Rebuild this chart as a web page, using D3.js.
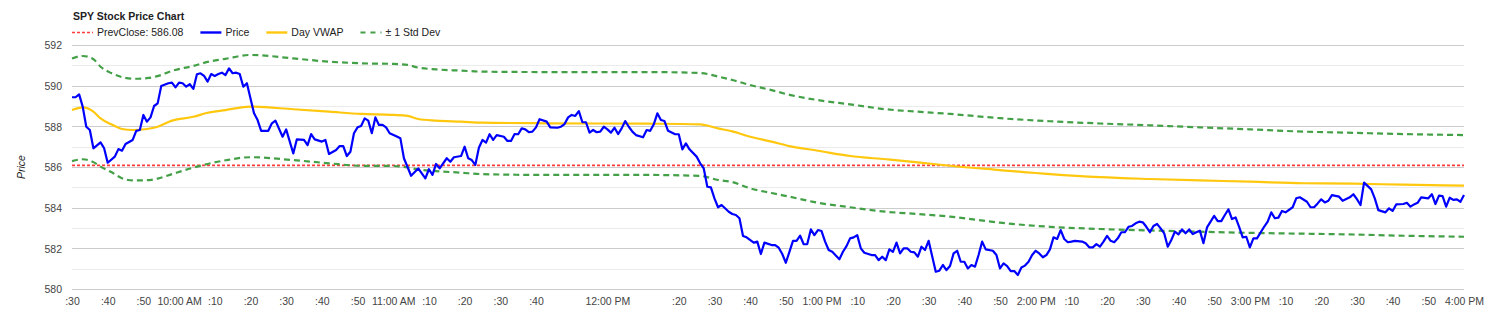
<!DOCTYPE html>
<html>
<head>
<meta charset="utf-8">
<script src="https://cdn.jsdelivr.net/npm/d3@7"></script>
<style>
  html, body { margin: 0; padding: 0; background: #fff; }
  svg { display: block; font-family: Arial, "Liberation Sans", sans-serif; }
</style>
</head>
<body>
<svg id="chart" width="1503" height="323"></svg>
<script>
// ---- data -------------------------------------------------------------
const title = "SPY Stock Price Chart";
const prevClose = 586.08;

// SPY last price: [minutes after the 9:30 open, price]
const price = [
  [0,589.43],[1,589.43],[2,589.57],[3,588.97],[4,587.98],[5,587.82],[6,586.92],[8,587.21],[9,586.92],
  [10,586.21],[12,586.51],[13,586.88],[14,586.80],[15,587.13],[17,587.33],[18,587.78],[19,587.82],
  [20,588.56],[21,588.23],[22,588.44],[23,589.00],[24,589.13],[25,589.98],[27,590.12],[28,590.15],
  [29,589.92],[30,590.15],[31,590.12],[32,589.95],[33,590.07],[34,589.84],[35,590.56],[36,590.61],
  [37,590.48],[38,590.20],[39,590.57],[40,590.48],[41,590.57],[42,590.64],[43,590.52],[44,590.85],
  [45,590.61],[46,590.64],[47,590.57],[48,589.95],[49,590.12],[51,588.64],[52,588.31],[53,587.78],
  [55,587.78],[56,588.15],[57,588.28],[59,587.49],[60,587.85],[62,586.67],[63,587.36],[65,587.33],
  [66,587.08],[67,587.62],[68,587.36],[70,587.25],[71,587.33],[72,586.64],[74,586.84],[75,587.03],
  [76,587.03],[77,586.54],[78,586.75],[79,587.66],[80,587.95],[81,588.02],[82,588.39],[83,588.28],
  [84,587.66],[85,588.44],[86,588.07],[87,588.07],[88,587.95],[89,587.66],[91,587.50],[92,587.41],
  [93,586.43],[95,585.57],[97,585.93],[99,585.44],[100,585.89],[101,585.61],[102,586.15],[103,585.93],
  [105,586.43],[106,586.26],[107,586.48],[109,586.54],[110,587.00],[111,586.43],[112,586.34],[113,586.10],
  [114,586.95],[115,587.33],[116,587.20],[117,587.61],[118,587.33],[119,587.57],[121,587.49],[122,587.28],
  [123,587.28],[124,587.62],[125,587.61],[126,587.90],[127,587.85],[128,587.71],[129,587.74],[130,587.95],
  [131,588.35],[133,588.23],[134,587.95],[136,587.93],[137,587.98],[138,588.11],[139,588.44],[140,588.56],
  [141,588.51],[142,588.75],[143,588.20],[144,588.20],[145,587.69],[146,587.82],[147,587.71],[148,587.74],
  [149,587.98],[150,587.85],[151,587.69],[152,587.93],[153,587.62],[154,587.90],[155,588.26],[156,587.98],
  [157,587.74],[158,587.57],[160,587.46],[161,587.82],[162,587.78],[163,588.10],[164,588.64],[165,588.31],
  [166,588.26],[167,587.78],[169,587.61],[170,587.61],[171,586.87],[172,587.16],[173,586.87],[175,586.51],
  [176,586.18],[177,585.93],[178,585.03],[179,585.00],[180,584.46],[181,584.02],[182,584.13],[184,583.80],
  [185,583.69],[186,583.64],[187,583.48],[188,582.61],[189,582.54],[191,582.28],[192,582.33],[193,581.72],
  [194,582.28],[196,582.16],[197,582.16],[198,582.03],[199,581.72],[200,581.29],[201,581.83],[202,582.37],
  [203,582.37],[204,582.62],[205,582.20],[206,582.21],[207,582.93],[208,582.65],[209,582.90],[210,582.85],
  [211,582.33],[212,581.92],[213,581.83],[215,581.46],[216,581.83],[217,582.11],[218,582.49],[219,582.54],
  [220,582.65],[221,582.00],[222,581.78],[224,581.67],[225,581.67],[226,581.42],[227,581.59],[228,581.42],
  [229,581.95],[230,581.83],[231,582.28],[232,581.75],[233,582.00],[234,582.00],[235,581.83],[236,581.80],
  [237,581.59],[238,582.08],[239,581.92],[240,582.37],[242,580.85],[243,580.90],[244,581.18],[245,580.93],
  [246,581.13],[247,581.75],[248,581.88],[249,581.34],[250,581.34],[251,581.01],[252,581.18],[253,581.10],
  [254,581.67],[255,582.33],[256,581.95],[258,581.88],[259,581.67],[260,581.01],[261,581.26],[262,581.13],
  [263,580.88],[264,580.88],[265,580.69],[266,581.06],[267,581.15],[268,581.34],[269,581.67],[270,581.88],
  [271,581.75],[272,581.56],[273,581.67],[274,581.95],[275,582.54],[276,582.46],[277,582.90],[278,582.46],
  [279,582.30],[280,582.33],[281,582.37],[283,582.33],[284,582.25],[285,582.05],[286,582.05],[287,582.21],
  [288,582.08],[289,582.33],[290,582.61],[291,582.37],[292,582.30],[293,582.49],[294,582.79],[295,582.79],
  [296,583.06],[297,583.10],[298,583.23],[299,583.31],[300,583.28],[301,583.06],[302,582.79],[303,583.10],
  [304,583.20],[305,582.98],[306,582.74],[307,582.08],[308,582.41],[309,582.82],[310,582.69],[311,582.93],
  [312,582.74],[313,582.93],[314,582.70],[315,582.79],[316,582.87],[317,582.25],[318,583.03],[320,583.60],
  [321,583.34],[322,583.34],[323,583.64],[324,583.92],[325,583.44],[326,583.52],[327,583.06],[328,582.54],
  [329,582.57],[330,582.05],[331,582.49],[332,582.49],[334,583.06],[335,583.31],[336,583.77],[337,583.48],
  [338,583.51],[339,583.84],[340,583.77],[342,584.02],[343,584.46],[344,584.51],[346,584.29],[347,584.02],
  [348,584.02],[349,584.21],[350,584.41],[351,584.26],[352,584.34],[353,584.62],[355,584.54],[356,584.34],
  [358,584.51],[359,584.66],[360,584.42],[361,584.13],[362,585.23],[364,584.90],[365,584.46],[366,583.88],
  [368,583.77],[369,583.97],[370,583.84],[371,584.16],[373,584.18],[374,584.24],[375,584.05],[376,584.16],
  [377,584.24],[378,584.51],[380,584.46],[381,584.66],[382,584.18],[383,584.59],[384,584.57],[385,584.05],
  [386,584.49],[387,584.38],[388,584.41],[389,584.29],[390,584.62]
];

// Session VWAP and its +/- 1 standard deviation band, sampled through the day
const bandMinutes = [0,3,6,8,11,14,17,21,24,28,34,38,43,50,62,72,81,90,94,97,102,109,115,133,161,
  176,181,185,190,196,201,209,218,228,237,246,260,274,288,302,316,330,345,359,373,390];
const vwap = [588.80,588.93,588.72,588.39,588.10,587.87,587.82,587.87,587.98,588.28,588.47,588.67,588.80,
  588.97,588.84,588.72,588.61,588.56,588.51,588.36,588.28,588.23,588.18,588.15,588.13,
  588.10,587.90,587.75,587.49,587.25,587.03,586.80,586.54,586.38,586.23,586.06,585.85,585.65,
  585.50,585.41,585.34,585.28,585.20,585.18,585.13,585.08];
const upperBand = [591.34,591.46,591.30,590.93,590.62,590.42,590.34,590.37,590.47,590.73,590.97,591.17,591.32,
  591.51,591.34,591.18,591.10,591.07,591.02,590.89,590.80,590.74,590.69,590.67,590.67,
  590.62,590.45,590.28,590.03,589.78,589.55,589.29,589.08,588.84,588.72,588.61,588.40,588.25,
  588.14,588.05,587.95,587.85,587.74,587.68,587.62,587.57];
const lowerBand = [586.29,586.38,586.24,586.02,585.75,585.45,585.34,585.35,585.43,585.65,585.97,586.15,586.33,
  586.48,586.34,586.18,586.06,586.05,585.98,585.88,585.80,585.72,585.65,585.61,585.61,
  585.56,585.36,585.26,584.95,584.72,584.54,584.24,584.02,583.80,583.69,583.56,583.26,583.06,
  582.95,582.88,582.82,582.76,582.72,582.68,582.62,582.57];

const yTicks = [580, 582, 584, 586, 588, 590, 592];
const sessionMinutes = 390;               // 9:30 AM to 4:00 PM
const hiddenTickMinutes = [140, 160];     // 11:50 and 12:10 would collide with "12:00 PM"

const legendItems = [
  { label: "PrevClose: " + prevClose.toFixed(2), color: "#ff3b3b", width: 1.6, dash: "3,2" },
  { label: "Price", color: "#0000ff", width: 2.2, dash: null },
  { label: "Day VWAP", color: "#ffc80f", width: 2.2, dash: null },
  { label: "\u00b1 1 Std Dev", color: "#43a047", width: 2.2, dash: "5,5" }
];

// ---- layout -----------------------------------------------------------
const svg = d3.select("#chart");
const plot = { left: 72, right: 1464, top: 45, bottom: 289 };

const x = d3.scaleLinear().domain([0, sessionMinutes]).range([plot.left, plot.right]);
const y = d3.scaleLinear().domain([580, 592]).range([plot.bottom, plot.top]);

function timeLabel(min) {
  const t = 9 * 60 + 30 + min;
  const h = Math.floor(t / 60), mm = t % 60;
  if (mm !== 0) return ":" + String(mm).padStart(2, "0");
  const h12 = ((h + 11) % 12) + 1;
  return h12 + ":00 " + (h < 12 ? "AM" : "PM");
}

// gridlines: every dollar, darker on the labelled (even) levels
const gridLevels = d3.range(580, 593, 1);
svg.append("g").selectAll("line").data(gridLevels).join("line")
  .attr("x1", plot.left).attr("x2", plot.right)
  .attr("y1", d => Math.round(y(d)) + 0.5).attr("y2", d => Math.round(y(d)) + 0.5)
  .attr("stroke", d => d % 2 === 0 ? "#cccccc" : "#ebebeb")
  .attr("stroke-width", 1);

// y axis labels
const yAxis = svg.append("g").attr("transform", `translate(${plot.left},0)`)
  .call(d3.axisLeft(y).tickValues(yTicks).tickFormat(d3.format("d")).tickSize(0).tickPadding(10));
yAxis.select(".domain").remove();
yAxis.selectAll("text").attr("font-size", 10.5).attr("fill", "#444")
  .attr("font-family", 'Arial, "Liberation Sans", sans-serif').attr("dy", "0.36em");

// x axis labels
const xTickValues = d3.range(0, sessionMinutes + 1, 10).filter(d => !hiddenTickMinutes.includes(d));
const xAxis = svg.append("g").attr("transform", `translate(0,${plot.bottom})`)
  .call(d3.axisBottom(x).tickValues(xTickValues).tickFormat(timeLabel).tickSize(0));
xAxis.select(".domain").remove();
xAxis.selectAll("text").attr("font-size", 10.5).attr("fill", "#444")
  .attr("font-family", 'Arial, "Liberation Sans", sans-serif')
  .attr("y", 16).attr("dy", null);

// y axis title
svg.append("text")
  .attr("transform", `translate(25,${(plot.top + plot.bottom) / 2}) rotate(-90)`)
  .attr("text-anchor", "middle")
  .attr("font-size", 10.5).attr("font-style", "italic").attr("fill", "#222")
  .text("Price");

// previous close reference line
svg.append("line")
  .attr("x1", plot.left).attr("x2", plot.right)
  .attr("y1", y(prevClose)).attr("y2", y(prevClose))
  .attr("stroke", legendItems[0].color).attr("stroke-width", legendItems[0].width)
  .attr("stroke-dasharray", legendItems[0].dash);

const bandLine = vals => d3.line()
  .x((d, i) => x(bandMinutes[i])).y(d => y(d))
  .curve(d3.curveMonotoneX)(vals);

// +/- 1 std dev band edges
[upperBand, lowerBand].forEach(vals => {
  svg.append("path").attr("d", bandLine(vals))
    .attr("fill", "none").attr("stroke", legendItems[3].color)
    .attr("stroke-width", legendItems[3].width).attr("stroke-dasharray", "6,4");
});

// day VWAP
svg.append("path").attr("d", bandLine(vwap))
  .attr("fill", "none").attr("stroke", legendItems[2].color)
  .attr("stroke-width", legendItems[2].width);

// price
svg.append("path")
  .attr("d", d3.line().x(d => x(d[0])).y(d => y(d[1]))(price))
  .attr("fill", "none").attr("stroke", legendItems[1].color)
  .attr("stroke-width", legendItems[1].width).attr("stroke-linejoin", "round");

// title
svg.append("text").attr("x", 73).attr("y", 19.5)
  .attr("font-size", 10.5).attr("font-weight", "bold").attr("fill", "#222")
  .text(title);

// legend
let lx = plot.left;
const legendY = 32.5;
legendItems.forEach(item => {
  svg.append("line")
    .attr("x1", lx).attr("x2", lx + 21).attr("y1", legendY).attr("y2", legendY)
    .attr("stroke", item.color).attr("stroke-width", item.dash ? item.width : 2.4)
    .attr("stroke-dasharray", item.dash);
  const t = svg.append("text").attr("x", lx + 25).attr("y", legendY + 3.8)
    .attr("font-size", 10.5).attr("fill", "#222").text(item.label);
  lx += 25 + t.node().getComputedTextLength() + 17;
});
</script>
</body>
</html>
